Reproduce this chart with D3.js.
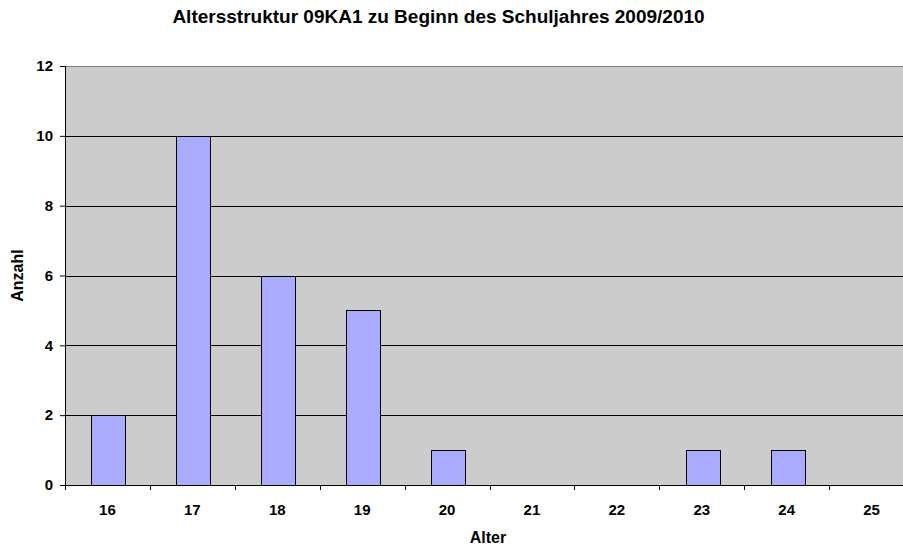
<!DOCTYPE html>
<html>
<head>
<meta charset="utf-8">
<script src="https://cdn.jsdelivr.net/npm/d3@7"></script>
<style>
  body { margin: 0; background: #fff; }
  text { font-family: "Liberation Sans", Arial, sans-serif; font-weight: bold; fill: #000; }
</style>
</head>
<body>
<svg id="chart" width="903" height="545"></svg>
<script>
// Altersstruktur - Balkendiagramm
var ages = ['16', '17', '18', '19', '20', '21', '22', '23', '24', '25'];
var counts = [2, 10, 6, 5, 1, 0, 0, 1, 1, 0];
var yTicks = [0, 2, 4, 6, 8, 10, 12];

var svg = d3.select("#chart");
var mLeft = 65, mTop = 66, plotW = 849, plotH = 419; // plot runs past the right edge

var x = d3.scaleBand()
  .range([0, plotW])
  .domain(ages)
  .paddingInner(0.6)
  .paddingOuter(0.3);

var xTick = d3.scaleBand().range([0, plotW]).domain(ages); // tick positions between categories

var y = d3.scaleLinear()
  .range([plotH, 0])
  .domain([0, 12]);

var g = svg.append("g").attr("transform", "translate(" + mLeft + "," + mTop + ")");

// plot background
g.append("rect")
  .attr("width", plotW).attr("height", plotH)
  .attr("fill", "#cccccc");
g.append("line")
  .attr("x1", 0).attr("x2", plotW).attr("y1", 0.5).attr("y2", 0.5)
  .attr("stroke", "#808080").attr("stroke-width", 1);

// gridlines
g.selectAll(".grid")
  .data(yTicks.filter(d => d > 0 && d < 12))
  .enter().append("line")
  .attr("class", "grid")
  .attr("x1", 0).attr("x2", plotW)
  .attr("y1", d => Math.round(y(d)) + 0.5).attr("y2", d => Math.round(y(d)) + 0.5)
  .attr("stroke", "#000");

// bars
g.selectAll(".bar")
  .data(counts)
  .enter().append("rect")
  .attr("class", "bar")
  .attr("x", (d, i) => Math.round(x(ages[i]) + 1) + 0.5)
  .attr("y", d => Math.round(y(d)) + 0.5)
  .attr("width", Math.round(x.bandwidth()))
  .attr("height", d => Math.round(y(0)) - Math.round(y(d)))
  .attr("fill", "#aaaaff")
  .attr("stroke", "#000")
  .attr("stroke-width", 1)
  .style("display", d => d > 0 ? null : "none");

// y axis
var yAxis = d3.axisLeft(y).tickValues(yTicks).tickSize(5).tickPadding(7);
g.append("g")
  .attr("class", "y axis")
  .call(yAxis)
  .call(a => a.select(".domain").attr("stroke", "#000"))
  .call(a => a.selectAll(".tick text").attr("font-size", 15).attr("font-family", "Liberation Sans, Arial, sans-serif"));

// x axis
var xAxis = d3.axisBottom(xTick).tickSize(0).tickPadding(19);
var xa = g.append("g")
  .attr("class", "x axis")
  .attr("transform", "translate(0," + plotH + ")")
  .call(xAxis)
  .call(a => a.select(".domain").attr("stroke", "#000"))
  .call(a => a.selectAll(".tick text").attr("font-size", 15).attr("font-family", "Liberation Sans, Arial, sans-serif"));

// tick marks between categories
xa.selectAll(".sep")
  .data(ages)
  .enter().append("line")
  .attr("class", "sep")
  .attr("x1", d => Math.round(xTick(d)) + 0.5).attr("x2", d => Math.round(xTick(d)) + 0.5)
  .attr("y1", 0).attr("y2", 5)
  .attr("stroke", "#000");

// titles
svg.append("text")
  .attr("x", 438.5).attr("y", 23)
  .attr("text-anchor", "middle")
  .attr("font-size", 19)
  .text("Altersstruktur 09KA1 zu Beginn des Schuljahres 2009/2010");

svg.append("text")
  .attr("x", 488).attr("y", 543)
  .attr("text-anchor", "middle")
  .attr("font-size", 16)
  .text("Alter");

svg.append("text")
  .attr("transform", "translate(23," + (mTop + plotH / 2) + ") rotate(-90)")
  .attr("text-anchor", "middle")
  .attr("font-size", 16)
  .text("Anzahl");
</script>
</body>
</html>
